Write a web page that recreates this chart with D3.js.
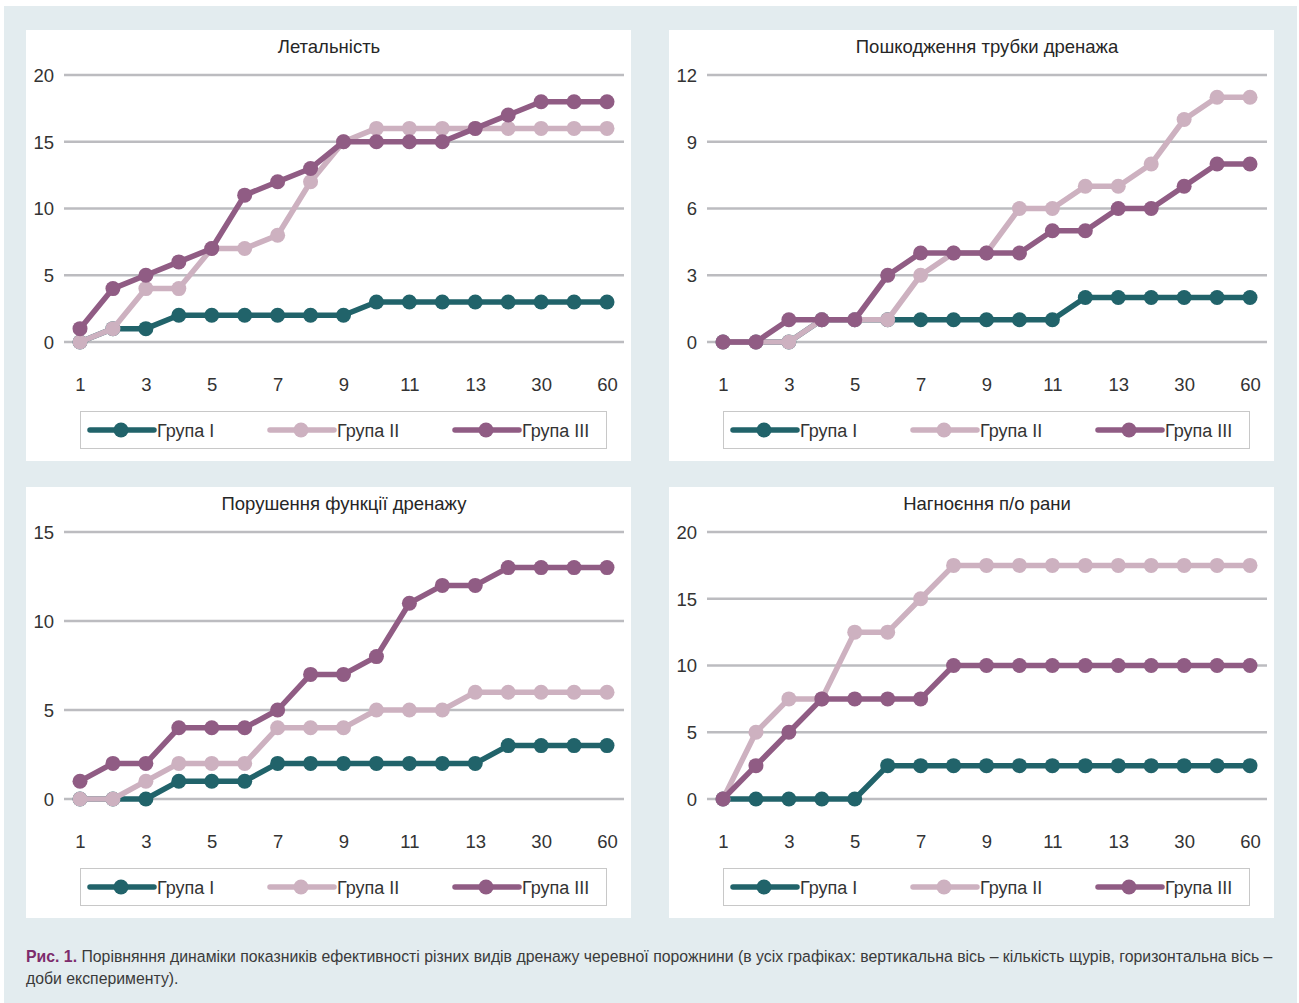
<!DOCTYPE html>
<html>
<head>
<meta charset="utf-8">
<script src="https://cdn.jsdelivr.net/npm/d3@7"></script>
<style>
	body { margin: 0; background: #fff; }
	svg { display: block; font-family: "Liberation Sans", Arial, sans-serif; }
	.c-panel__title { font-size: 18.5px; fill: #262626; }
	.c-panel__tick { font-size: 18.5px; fill: #333; }
	.c-panel__legend { font-size: 18px; fill: #333; }
	.c-caption { font-family: "Liberation Sans Narrow", "Liberation Sans", sans-serif; font-size: 16.5px; fill: #3a3a3a; }
</style>
</head>
<body>
<svg id="chart" width="1299" height="1003"></svg>
<script>
// x categories (days); only every other label is shown
var days = ["1", "2", "3", "4", "5", "6", "7", "8", "9", "10", "11", "12", "13", "14", "30", "45", "60"];
var groups = ["Група I", "Група II", "Група III"];
var groupColors = ["#21636a", "#cdb1c0", "#905c84"];

// panel titles and y ticks
var titles = ["Летальність", "Пошкодження трубки дренажа", "Порушення функції дренажу", "Нагноєння п/о рани"];
var yTicks = [[0, 5, 10, 15, 20], [0, 3, 6, 9, 12], [0, 5, 10, 15], [0, 5, 10, 15, 20]];

// Летальність
var lethalI   = [0, 1, 1, 2, 2, 2, 2, 2, 2, 3, 3, 3, 3, 3, 3, 3, 3];
var lethalII  = [0, 1, 4, 4, 7, 7, 8, 12, 15, 16, 16, 16, 16, 16, 16, 16, 16];
var lethalIII = [1, 4, 5, 6, 7, 11, 12, 13, 15, 15, 15, 15, 16, 17, 18, 18, 18];

// Пошкодження трубки дренажа
var tubeI   = [0, 0, 0, 1, 1, 1, 1, 1, 1, 1, 1, 2, 2, 2, 2, 2, 2];
var tubeII  = [0, 0, 0, 1, 1, 1, 3, 4, 4, 6, 6, 7, 7, 8, 10, 11, 11];
var tubeIII = [0, 0, 1, 1, 1, 3, 4, 4, 4, 4, 5, 5, 6, 6, 7, 8, 8];

// Порушення функції дренажу
var funcI   = [0, 0, 0, 1, 1, 1, 2, 2, 2, 2, 2, 2, 2, 3, 3, 3, 3];
var funcII  = [0, 0, 1, 2, 2, 2, 4, 4, 4, 5, 5, 5, 6, 6, 6, 6, 6];
var funcIII = [1, 2, 2, 4, 4, 4, 5, 7, 7, 8, 11, 12, 12, 13, 13, 13, 13];

// Нагноєння п/о рани
var woundI   = [0, 0, 0, 0, 0, 2.5, 2.5, 2.5, 2.5, 2.5, 2.5, 2.5, 2.5, 2.5, 2.5, 2.5, 2.5];
var woundII  = [0, 5, 7.5, 7.5, 12.5, 12.5, 15, 17.5, 17.5, 17.5, 17.5, 17.5, 17.5, 17.5, 17.5, 17.5, 17.5];
var woundIII = [0, 2.5, 5, 7.5, 7.5, 7.5, 7.5, 10, 10, 10, 10, 10, 10, 10, 10, 10, 10];

var panelSeries = [
	[lethalI, lethalII, lethalIII],
	[tubeI, tubeII, tubeIII],
	[funcI, funcII, funcIII],
	[woundI, woundII, woundIII]
];

var svg = d3.select("#chart");

//Outer background
svg.append("rect")
	.attr("x", 4).attr("y", 6)
	.attr("width", 1293).attr("height", 997)
	.attr("fill", "#e3ecef");

var panelW = 605, panelH = 431;
var positions = [[26, 30], [669, 30], [26, 487], [669, 487]];
var titleCenters = [303, 318, 318, 318];

positions.forEach(function(pos, p){
	var g = svg.append("g")
		.attr("transform", "translate(" + pos[0] + "," + pos[1] + ")");

	g.append("rect")
		.attr("width", panelW).attr("height", panelH)
		.attr("fill", "#fff");

	var ticks = yTicks[p];
	var x = d3.scalePoint().domain(days).range([54, 581]);
	var y = d3.scaleLinear().domain([0, ticks[ticks.length - 1]]).range([312, 45]);

	//Title
	g.append("text")
		.attr("class", "c-panel__title")
		.attr("x", titleCenters[p]).attr("y", 23)
		.attr("text-anchor", "middle")
		.text(titles[p]);

	//Gridlines
	g.selectAll(".grid").data(ticks).enter().append("line")
		.attr("x1", 38).attr("x2", 598)
		.attr("y1", function(d){ return y(d); })
		.attr("y2", function(d){ return y(d); })
		.attr("stroke", "#bcbcc0")
		.attr("stroke-width", 2.5);

	//Y axis labels
	var yAxis = d3.axisLeft(y).tickValues(ticks).tickSize(0).tickPadding(0);
	var yg = g.append("g").attr("transform", "translate(28,0)").call(yAxis);
	yg.select(".domain").remove();
	yg.selectAll("text").attr("class", "c-panel__tick").attr("font-size", null).attr("font-family", null).attr("fill", null).attr("dy", "0.35em");

	//X axis labels (every other)
	var xAxis = d3.axisBottom(x)
		.tickValues(days.filter(function(d, i){ return i % 2 === 0; }))
		.tickSize(0).tickPadding(0);
	var xg = g.append("g").attr("transform", "translate(0,348)").call(xAxis);
	xg.select(".domain").remove();
	xg.selectAll("text").attr("class", "c-panel__tick").attr("font-size", null).attr("font-family", null).attr("fill", null).attr("dy", "0.71em");

	//Series
	var line = d3.line()
		.x(function(d, i){ return x(days[i]); })
		.y(function(d){ return y(d); });

	panelSeries[p].forEach(function(values, s){
		g.append("path")
			.datum(values)
			.attr("d", line)
			.attr("fill", "none")
			.attr("stroke", groupColors[s])
			.attr("stroke-width", 5.5)
			.attr("stroke-linejoin", "round");

		g.selectAll(".dot" + s).data(values).enter().append("circle")
			.attr("cx", function(d, i){ return x(days[i]); })
			.attr("cy", function(d){ return y(d); })
			.attr("r", 7.5)
			.attr("fill", groupColors[s]);
	});

	//Legend
	g.append("rect")
		.attr("x", 54.5).attr("y", 381.5)
		.attr("width", 526).attr("height", 37)
		.attr("fill", "none")
		.attr("stroke", "#c8c8c8")
		.attr("stroke-width", 1);

	var legendX = [64, 244, 429];
	groups.forEach(function(name, s){
		var lx = legendX[s];
		g.append("line")
			.attr("x1", lx).attr("x2", lx + 64)
			.attr("y1", 400).attr("y2", 400)
			.attr("stroke", groupColors[s])
			.attr("stroke-width", 5.5)
			.attr("stroke-linecap", "round");
		g.append("circle")
			.attr("cx", lx + 31).attr("cy", 400)
			.attr("r", 7.5)
			.attr("fill", groupColors[s]);
		g.append("text")
			.attr("class", "c-panel__legend")
			.attr("x", lx + 67).attr("y", 406.5)
			.text(name);
	});
});

//Caption (narrow face emulated by horizontal squeeze)
var cap1 = svg.append("g");
var caption = cap1.append("text")
	.attr("class", "c-caption");
caption.append("tspan")
	.attr("fill", "#7d2c6c")
	.attr("font-weight", "bold")
	.text("Рис. 1.");
caption.append("tspan")
	.text(" Порівняння динаміки показників ефективності різних видів дренажу черевної порожнини (в усіх графіках: вертикальна вісь – кількість щурів, горизонтальна вісь –");
var sx = 1247 / caption.node().getComputedTextLength();
cap1.attr("transform", "translate(26,962) scale(" + sx + ",1)");

svg.append("g")
	.attr("transform", "translate(26,984) scale(" + sx + ",1)")
	.append("text")
	.attr("class", "c-caption")
	.text("доби експерименту).");
</script>
</body>
</html>
